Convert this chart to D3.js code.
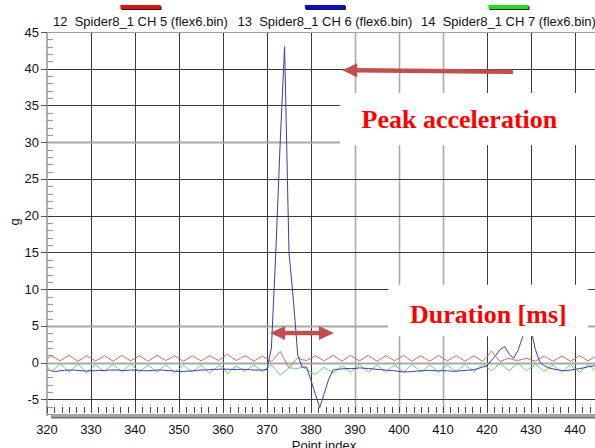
<!DOCTYPE html>
<html>
<head>
<meta charset="utf-8">
<script src="https://cdn.jsdelivr.net/npm/d3@7"></script>
<style>
  html, body { margin: 0; padding: 0; background: #fff; }
  svg { display: block; }
  text.sans { font-family: "Liberation Sans", Arial, sans-serif; }
  text.serif { font-family: "Liberation Serif", "Times New Roman", serif; font-weight: bold; }
</style>
</head>
<body>
<svg id="chart" width="595" height="448"></svg>
<script>
// ---------------- DATA ----------------
const pointIndex = d3.range(320, 446); // 320 .. 445

const seriesNames = [
  "12  Spider8_1 CH 5 (flex6.bin)",
  "13  Spider8_1 CH 6 (flex6.bin)",
  "14  Spider8_1 CH 7 (flex6.bin)"
];

// CH 5 (red)
const ch5 = [
  0.5, 0.95, 0.6, 0.25, 0.6, 1.0, 0.6, 0.2, 0.55, 0.95,          // 320-329
  0.6, 0.25, 0.55, 0.95, 0.6, 0.2, 0.6, 1.0, 0.6, 0.25,          // 330-339
  0.6, 0.95, 0.55, 0.2, 0.6, 1.0, 0.65, 0.3, 0.6, 0.95,          // 340-349
  0.55, 0.2, 0.55, 0.95, 0.6, 0.25, 0.6, 0.95, 0.6, 0.3,         // 350-359
  0.7, 1.15, 0.7, 0.3, 0.6, 0.95, 0.6, 0.2, 0.55, 0.9,           // 360-369
  0.5, 0.15, 0.8, 1.55, 0.4, -0.7, 0.0, 0.7, 0.4, 0.3,           // 370-379
  0.6, 0.95, 0.6, 0.25, 0.6, 1.0, 0.6, 0.2, 0.6, 1.0,            // 380-389
  0.6, 0.25, 0.6, 1.0, 0.6, 0.2, 0.55, 0.95, 0.6, 0.25,          // 390-399
  0.6, 1.0, 0.6, 0.2, 0.6, 0.95, 0.55, 0.2, 0.6, 1.0,            // 400-409
  0.6, 0.25, 0.6, 0.95, 0.6, 0.2, 0.55, 0.95, 0.55, 0.2,         // 410-419
  0.8, 1.6, 0.9, 0.15, 0.4, 0.6, 0.4, 0.3, 0.45, 0.6,            // 420-429
  0.4, 0.2, 0.55, 0.9, 0.55, 0.2, 0.55, 0.9, 0.55, 0.2,          // 430-439
  0.55, 0.95, 0.6, 0.25, 0.6, 0.95                               // 440-445
];

// CH 6 (blue)
const ch6 = [
  -1.0, -1.1, -1.2, -1.1, -1.05, -1.0, -1.0, -1.05, -1.1, -1.15, // 320-329
  -1.1, -1.1, -1.05, -1.05, -1.0, -1.0, -1.0, -1.05, -1.05, -1.0,// 330-339
  -1.0, -1.05, -1.1, -1.1, -1.05, -1.0, -1.0, -1.05, -1.1, -1.15,// 340-349
  -1.2, -1.2, -1.15, -1.1, -1.05, -1.0, -1.0, -0.95, -0.9, -0.9, // 350-359
  -0.85, -0.9, -0.9, -0.95, -0.9, -0.9, -0.95, -1.0, -1.0, -1.0, // 360-369
  -0.9, 2.0, 15, 30, 43, 15, 8.5, 1.0, -0.6, -0.6,               // 370-379
  -2.4, -4.3, -6.1, -4.2, -2.3, -1.0, -0.9, -0.85, -0.8, -0.8,   // 380-389
  -0.8, -0.7, -0.75, -0.8, -0.85, -0.9, -0.95, -1.0, -1.05, -1.1,// 390-399
  -1.2, -1.25, -1.25, -1.2, -1.15, -1.1, -1.05, -1.05, -1.1, -1.1,// 400-409
  -1.1, -1.1, -1.15, -1.15, -1.1, -1.05, -1.0, -0.95, -0.8, -0.6,// 410-419
  -0.4, 0.3, 1.0, 1.8, 2.2, 1.2, 0.6, 1.6, 3.3, 5.5,             // 420-429
  4.5, 1.8, 0.1, -0.4, -0.7, -0.85, -0.95, -1.05, -1.1, -1.0,    // 430-439
  -0.9, -0.8, -0.7, -0.55, -0.45, -0.4                           // 440-445
];

// CH 7 (green)
const ch7 = [
  -0.45, -1.2, -0.7, -0.15, -0.7, -1.25, -0.75, -0.2, -0.75, -1.3, // 320-329
  -0.8, -0.3, -0.75, -1.2, -0.7, -0.25, -0.75, -1.25, -0.75, -0.2, // 330-339
  -0.7, -1.25, -0.8, -0.3, -0.8, -1.3, -0.75, -0.25, -0.8, -1.35,  // 340-349
  -0.85, -0.35, -0.85, -1.3, -0.8, -0.3, -0.9, -1.45, -0.9, -0.4,  // 350-359
  -0.6, -1.5, -1.0, -0.45, -0.8, -1.2, -0.7, -0.3, -0.75, -1.25,   // 360-369
  -0.8, -0.3, -1.0, -1.7, -1.2, -0.7, -0.75, -0.8, -0.6, -0.9,     // 370-379
  -1.3, -1.6, -1.1, -0.6, -1.0, -1.4, -1.0, -0.4, -0.8, -1.3,      // 380-389
  -0.8, -0.25, -0.75, -1.3, -0.8, -0.3, -0.8, -1.3, -0.8, -0.3,    // 390-399
  -0.8, -1.3, -0.75, -0.25, -0.75, -1.3, -0.8, -0.3, -0.8, -1.3,   // 400-409
  -0.8, -0.3, -0.8, -1.3, -0.75, -0.25, -0.75, -1.25, -0.7, -0.2,  // 410-419
  -0.65, -1.1, -0.6, -0.1, -0.6, -1.1, -0.6, -0.1, -0.6, -1.1,     // 420-429
  -0.65, -0.2, -0.7, -1.2, -0.75, -0.3, -0.8, -1.3, -0.8, -0.3,    // 430-439
  -0.8, -1.3, -0.8, -0.3, -0.75, -1.2                              // 440-445
];

const xTickLabels = [320, 330, 340, 350, 360, 370, 380, 390, 400, 410, 420, 430, 440];
const yTickLabels = [-5, 0, 5, 10, 15, 20, 25, 30, 35, 40, 45];

// annotation texts and their anchor points (data units)
const annotationTexts = ["Peak acceleration", "Duration [ms]"];
const annotationAnchors = [[391.5, 32.0], [402.5, 5.36]];
const annotationBoxes = [[386.6, 445, 36.7, 29.6], [397.5, 443, 10.6, 3.6]];
const peakArrow = [[425.9, 39.6], [387.1, 39.8]];       // tail -> tip
const durationArrow = [[370.7, 4.05], [385.2, 4.05]];   // double headed

// ---------------- LAYOUT ----------------
const svg = d3.select("#chart");
const x = d3.scaleLinear().domain([320, 444.55]).range([47, 595]);
const y = d3.scaleLinear().domain([-7.2, 45]).range([415.6, 32]);

const softX = new Set([390, 400, 410]);
const softY = new Set([0, 5, 30]);

svg.append("defs").append("clipPath").attr("id", "plotclip")
  .append("rect").attr("x", 47).attr("y", 32).attr("width", 548).attr("height", 384);

// gridlines vertical
const gx = svg.append("g");
xTickLabels.filter(v => v > 320).forEach(v => {
  const px = Math.round(x(v)) + 0.5;
  gx.append("line")
    .attr("x1", px).attr("x2", px).attr("y1", 32).attr("y2", 413)
    .attr("stroke", softX.has(v) ? "#a8a8a8" : "#3a3a3a")
    .attr("stroke-width", softX.has(v) ? 1.6 : 1);
});
// gridlines horizontal
const gy = svg.append("g");
yTickLabels.filter(v => v < 45).forEach(v => {
  const py = Math.round(y(v)) + 0.5;
  gy.append("line")
    .attr("x1", 47).attr("x2", 595).attr("y1", py).attr("y2", py)
    .attr("stroke", softY.has(v) ? "#a8a8a8" : "#3a3a3a")
    .attr("stroke-width", softY.has(v) ? 2 : 1);
});
svg.append("line").attr("x1", 47).attr("x2", 595).attr("y1", 32.5).attr("y2", 32.5)
  .attr("stroke", "#a0a0a0").attr("stroke-width", 1.2);

// series
const series = [
  { values: ch5, color: "#c86a6a" },
  { values: ch7, color: "#6ccf6c" },
  { values: ch6, color: "#3c3caa" }
];
const line = d3.line().x(d => x(d[0])).y(d => y(d[1]));
const plot = svg.append("g").attr("clip-path", "url(#plotclip)");
series.forEach(s => {
  plot.append("path")
    .datum(pointIndex.map((p, i) => [p, s.values[i]]))
    .attr("d", line)
    .attr("fill", "none")
    .attr("stroke", s.color)
    .attr("stroke-width", 1);
});

// y axis
svg.append("line").attr("x1", 47).attr("x2", 47).attr("y1", 32).attr("y2", 416)
  .attr("stroke", "#9a9a9a").attr("stroke-width", 1.6);
const yMinor = d3.range(-7, 46).filter(v => v % 5 !== 0);
svg.append("g").selectAll("line").data(yMinor).join("line")
  .attr("x1", 47).attr("x2", 53)
  .attr("y1", d => Math.round(y(d)) + 0.5).attr("y2", d => Math.round(y(d)) + 0.5)
  .attr("stroke", "#999").attr("stroke-width", 1.2);
svg.append("g").selectAll("line").data(yTickLabels).join("line")
  .attr("x1", 41).attr("x2", 47)
  .attr("y1", d => Math.round(y(d)) + 0.5).attr("y2", d => Math.round(y(d)) + 0.5)
  .attr("stroke", "#555").attr("stroke-width", 1);
svg.append("g").selectAll("text").data(yTickLabels).join("text")
  .attr("class", "sans")
  .attr("x", 39).attr("y", d => y(d) + 4.5)
  .attr("text-anchor", "end").attr("font-size", 13).attr("fill", "#111")
  .text(d => d);
svg.append("text").attr("class", "sans").attr("transform", "translate(19,222) rotate(-90)")
  .attr("text-anchor", "middle").attr("font-size", 13).attr("fill", "#111").text("g");

// x axis minor ticks
const xMinor = d3.range(0, 76).map(k => 320 + k * 10 / 6);
svg.append("g").selectAll("line").data(xMinor).join("line")
  .attr("x1", d => Math.round(x(d)) + 0.5).attr("x2", d => Math.round(x(d)) + 0.5)
  .attr("y1", 407).attr("y2", 413)
  .attr("stroke", "#444").attr("stroke-width", 1);
svg.append("rect").attr("x", 51).attr("y", 414).attr("width", 544).attr("height", 4)
  .attr("fill", "#a4a4a4");
svg.append("rect").attr("x", 51).attr("y", 417).attr("width", 544).attr("height", 1.5)
  .attr("fill", "#6e6e6e");
svg.append("g").selectAll("text").data(xTickLabels).join("text")
  .attr("class", "sans")
  .attr("x", d => x(d)).attr("y", 434)
  .attr("text-anchor", "middle").attr("font-size", 13).attr("fill", "#111")
  .text(d => d);
svg.append("text").attr("class", "sans").attr("x", 324).attr("y", 450).attr("text-anchor", "middle")
  .attr("font-size", 13).attr("fill", "#111").text("Point index");

// legend
const legendColors = ["#dd1111", "#0a0ac8", "#22dd22"];
const legendX = [53, 237.5, 421];
seriesNames.forEach((name, i) => {
  const t = svg.append("text").attr("class", "sans").attr("x", legendX[i]).attr("y", 26)
    .attr("font-size", 13).attr("fill", "#111")
    .style("white-space", "pre").text(name);
  const w = t.node().getComputedTextLength();
  const cx = legendX[i] + w / 2;
  svg.append("rect").attr("x", cx - 19).attr("y", 6).attr("width", 40).attr("height", 4)
    .attr("fill", "#222");
  svg.append("rect").attr("x", cx - 20).attr("y", 5).attr("width", 40).attr("height", 4)
    .attr("fill", legendColors[i]);
});

// annotation boxes
annotationBoxes.forEach(b => {
  svg.append("rect")
    .attr("x", x(b[0])).attr("y", y(b[2]))
    .attr("width", x(b[1]) - x(b[0])).attr("height", y(b[3]) - y(b[2]))
    .attr("fill", "#fff");
});
annotationTexts.forEach((t, i) => {
  svg.append("text").attr("class", "serif")
    .attr("x", x(annotationAnchors[i][0])).attr("y", y(annotationAnchors[i][1]))
    .attr("font-size", 26).attr("fill", "#ff0000")
    .text(t);
});

// arrows
const arrowColor = "#c0504d";
function arrowHead(tip, dir) {
  const len = 15, half = 7;
  const bx = tip[0] - dir[0] * len, by = tip[1] - dir[1] * len;
  const nx = -dir[1], ny = dir[0];
  return [[tip[0], tip[1]], [bx + nx * half, by + ny * half], [bx - nx * half, by - ny * half]];
}
function drawArrow(a, b, both) {
  const p0 = [x(a[0]), y(a[1])], p1 = [x(b[0]), y(b[1])];
  const dx = p1[0] - p0[0], dy = p1[1] - p0[1];
  const L = Math.hypot(dx, dy);
  const u = [dx / L, dy / L];
  const s0 = both ? [p0[0] + u[0] * 12, p0[1] + u[1] * 12] : p0;
  const s1 = [p1[0] - u[0] * 12, p1[1] - u[1] * 12];
  svg.append("line").attr("x1", s0[0]).attr("y1", s0[1]).attr("x2", s1[0]).attr("y2", s1[1])
    .attr("stroke", arrowColor).attr("stroke-width", 4.5);
  svg.append("polygon").attr("points", arrowHead(p1, u).map(p => p.join(",")).join(" "))
    .attr("fill", arrowColor);
  if (both) {
    svg.append("polygon").attr("points", arrowHead(p0, [-u[0], -u[1]]).map(p => p.join(",")).join(" "))
      .attr("fill", arrowColor);
  }
}
drawArrow(peakArrow[0], peakArrow[1], false);
drawArrow(durationArrow[0], durationArrow[1], true);
</script>
</body>
</html>
